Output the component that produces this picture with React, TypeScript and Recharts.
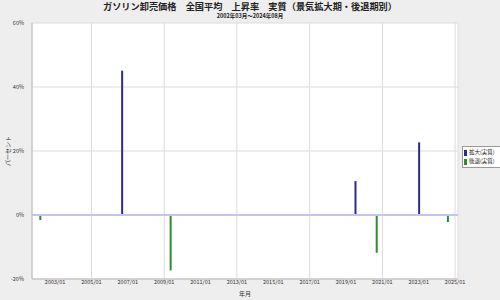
import React from 'react';
import { ComposedChart, Bar, XAxis, YAxis, CartesianGrid, ReferenceLine, Label } from 'recharts';

const months = ['2002/03', '2006/09', '2009/05', '2019/07', '2020/09', '2023/01', '2024/08'];
const expansion = [null, 45.1, null, 10.6, null, 22.7, null];
const recession = [-1.6, null, -17.3, null, -11.8, null, -2.2];
const xTicks = [2003, 2005, 2007, 2009, 2011, 2013, 2015, 2017, 2019, 2021, 2023, 2025];
const yTicks = [-20, 0, 20, 40, 60];
const title = 'ガソリン卸売価格　全国平均　上昇率　実質（景気拡大期・後退期別）';
const subtitle = '2002年03月～2024年08月';
const seriesNames = ['拡大(実質)', '後退(実質)'];

const toYear = (m: string) => {
  const [y, mo] = m.split('/').map(Number);
  return y + (mo - 1) / 12;
};

const data = months.map((m, i) => ({ t: toYear(m), exp: expansion[i], rec: recession[i] }));

const FONT = '"Noto Sans CJK JP", "Noto Sans", sans-serif';
const BLUE = '#2b2b8c';
const GREEN = '#2e8b2e';

export default function App() {
  return (
    <div style={{ position: 'absolute', left: 0, top: 0, width: 500, height: 300, background: '#eeeeee', fontFamily: FONT }}>
      <div style={{ position: 'absolute', left: 0, top: -1, width: 500, textAlign: 'center', fontSize: 9.2, fontWeight: 'bold', lineHeight: '14px', color: '#222' }}>{title}</div>
      <div style={{ position: 'absolute', left: 0, top: 12, width: 500, textAlign: 'center', fontSize: 5.5, fontWeight: 'bold', lineHeight: '8px', color: '#222' }}>{subtitle}</div>
      <div style={{ position: 'absolute', left: 0, top: 0 }}>
        <ComposedChart width={500} height={300} data={data} margin={{ top: 23, right: 42, bottom: 0, left: 0 }}>
          <CartesianGrid stroke="#dcdcdc" fill="#ffffff" />
          <XAxis
            dataKey="t"
            type="number"
            domain={[2001.73, 2025.16]}
            ticks={xTicks}
            tickFormatter={(v: number) => `${v}/01`}
            allowDataOverflow
            height={21}
            tick={{ fontSize: 5.5, fill: '#333', fontFamily: FONT }}
            tickLine={false}
            tickSize={1}
            axisLine={{ stroke: '#bbbbbb' }}
            tickMargin={0}
          >
            <Label value="年月" position="insideBottom" offset={4} style={{ fontSize: 6, fill: '#333', fontFamily: FONT }} />
          </XAxis>
          <YAxis
            type="number"
            domain={[-20, 60]}
            ticks={yTicks}
            tickFormatter={(v: number) => `${v}%`}
            width={32}
            tick={{ fontSize: 5.5, fill: '#333', fontFamily: FONT }}
            tickLine={false}
            axisLine={{ stroke: '#bbbbbb' }}
            tickMargin={2}
          >
            <Label value="パーセント" angle={-90} position="insideLeft" offset={8} style={{ fontSize: 6, fill: '#333', fontFamily: FONT, textAnchor: 'middle' }} />
          </YAxis>
          <YAxis yAxisId="r" orientation="right" width={0} axisLine={{ stroke: '#bbbbbb' }} tick={false} tickLine={false} />
          <ReferenceLine y={0} stroke="#c4c4ec" strokeWidth={2} />
          <Bar dataKey="exp" stackId="a" fill={BLUE} barSize={2} isAnimationActive={false} />
          <Bar dataKey="rec" stackId="a" fill={GREEN} barSize={2} isAnimationActive={false} />
        </ComposedChart>
      </div>
      <div style={{ position: 'absolute', left: 462, top: 146, width: 35, border: '1px solid #999', background: '#fff', padding: '1px 1px', fontSize: 5.5, lineHeight: '9px', color: '#222' }}>
        {seriesNames.map((n, i) => (
          <div key={n} style={{ display: 'flex', alignItems: 'center', whiteSpace: 'nowrap' }}>
            <span style={{ display: 'inline-block', width: 3, height: 6, background: i === 0 ? BLUE : GREEN, marginRight: 2 }} />
            {n}
          </div>
        ))}
      </div>
    </div>
  );
}
